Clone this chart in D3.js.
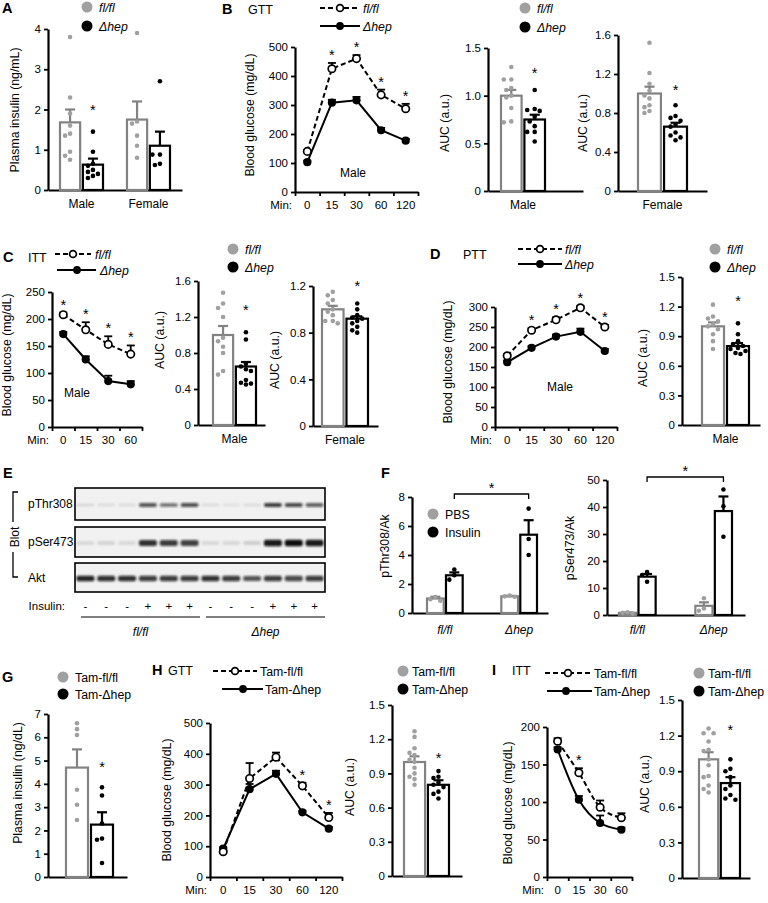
<!DOCTYPE html>
<html><head><meta charset="utf-8">
<script src="https://cdn.jsdelivr.net/npm/d3@7"></script>
<style>body{margin:0;background:#fff}svg{display:block;font-family:"Liberation Sans",Arial,sans-serif}</style>
</head><body><svg id="c" width="768" height="903"></svg>
<script>
// ================= DATA =================
// A: plasma insulin
const sexGroups = ["Male", "Female"];
const aFlMean = [1.68, 1.75];
const aFlSem = [0.32, 0.45];
const aHepMean = [0.63, 1.10];
const aHepSem = [0.15, 0.35];
const aFlDots = [[3.8, 2.3, 1.9, 1.6, 1.4, 1.35, 0.95, 0.85, 0.75], [3.9, 1.7, 1.65, 1.35, 1.1, 0.8]];
const aHepDots = [[1.45, 0.95, 0.65, 0.6, 0.5, 0.45, 0.4, 0.35, 0.3], [2.7, 0.88, 0.88, 0.65, 0.62]];
const aStars = [2.07, null];
const aTicks = [0, 1, 2, 3, 4];

// B: GTT
const gttTimes = ["0", "15", "30", "60", "120"];
const bFlMean = [140, 425, 460, 335, 287];
const bFlSem = [5, 20, 12, 18, 17];
const bHepMean = [103, 308, 316, 213, 177];
const bHepSem = [5, 10, 12, 8, 6];
const bStars = [false, true, true, true, true];
const bTicks = [0, 100, 200, 300, 400, 500];
const bAucMaleMean = [1.0, 0.75];
const bAucMaleSem = [0.06, 0.05];
const bAucMaleFl = [1.3, 1.17, 1.17, 1.08, 1.06, 1.0, 0.98, 0.87, 0.73, 0.72];
const bAucMaleHep = [1.06, 0.86, 0.85, 0.84, 0.78, 0.73, 0.68, 0.62, 0.62, 0.52];
const bAucMaleStar = 1.27;
const bAucMaleTicks = [0, 0.5, 1.0, 1.5];
const bAucFemMean = [1.0, 0.66];
const bAucFemSem = [0.07, 0.04];
const bAucFemFl = [1.52, 1.21, 1.1, 1.03, 0.98, 0.95, 0.88, 0.86, 0.82, 0.8];
const bAucFemHep = [0.88, 0.77, 0.75, 0.72, 0.68, 0.66, 0.6, 0.57, 0.55, 0.52];
const bAucFemStar = 1.07;
const bAucFemTicks = [0, 0.4, 0.8, 1.2, 1.6];

// C: ITT
const ittTimes = ["0", "15", "30", "60"];
const cFlMean = [208, 180, 153, 135];
const cFlSem = [4, 14, 15, 16];
const cHepMean = [172, 125, 85, 79];
const cHepSem = [4, 6, 10, 6];
const cStars = [true, true, true, true];
const cTicks = [0, 50, 100, 150, 200, 250];
const cAucMaleMean = [1.0, 0.65];
const cAucMaleSem = [0.1, 0.05];
const cAucMaleFl = [1.47, 1.35, 1.3, 1.2, 0.97, 0.93, 0.87, 0.8, 0.6, 0.56];
const cAucMaleHep = [1.03, 0.95, 0.68, 0.65, 0.62, 0.6, 0.5, 0.47, 0.46, 0.45];
const cAucMaleStar = 1.31;
const cAucMaleTicks = [0, 0.4, 0.8, 1.2, 1.6];
const cAucFemMean = [1.0, 0.92];
const cAucFemSem = [0.03, 0.02];
const cAucFemFl = [1.15, 1.12, 1.08, 1.05, 1.0, 0.98, 0.95, 0.9, 0.9, 0.88];
const cAucFemHep = [1.05, 1.0, 0.95, 0.93, 0.92, 0.9, 0.88, 0.85, 0.82, 0.8];
const cAucFemStar = 1.23;
const cAucFemTicks = [0, 0.4, 0.8, 1.2];

// D: PTT
const dFlMean = [178, 242, 268, 298, 250];
const dFlSem = [4, 5, 6, 5, 5];
const dHepMean = [162, 198, 226, 238, 190];
const dHepSem = [4, 4, 5, 8, 5];
const dStars = [false, true, true, true, true];
const dTicks = [0, 50, 100, 150, 200, 250, 300];
const dAucMean = [1.0, 0.8];
const dAucSem = [0.04, 0.03];
const dAucFl = [1.22, 1.1, 1.08, 1.05, 1.02, 1.0, 0.97, 0.92, 0.85, 0.77];
const dAucHep = [1.03, 0.92, 0.85, 0.82, 0.8, 0.78, 0.77, 0.75, 0.73, 0.72];
const dAucStar = 1.29;
const aucTicks15 = [0, 0.3, 0.6, 0.9, 1.2, 1.5];

// E: western blot (band darkness 0-1)
const blotInsulin = ["-", "-", "-", "+", "+", "+", "-", "-", "-", "+", "+", "+"];
const blotThr308 = [0.12, 0.1, 0.1, 0.7, 0.6, 0.72, 0.1, 0.08, 0.1, 0.8, 0.75, 0.65];
const blotSer473 = [0.1, 0.12, 0.1, 0.85, 0.8, 0.78, 0.1, 0.1, 0.15, 0.95, 1.0, 0.95];
const blotAkt = [0.9, 0.85, 0.85, 0.8, 0.8, 0.8, 0.85, 0.8, 0.7, 0.8, 0.75, 0.8];
const blotGroups = ["fl/fl", "Δhep"];

// F: quantification
const fGroups = ["fl/fl", "Δhep"];
const fThrPbsMean = [1.0, 1.15];
const fThrPbsSem = [0.12, 0.03];
const fThrPbsDots = [[1.1, 0.95, 0.85], [1.2, 1.15, 1.12]];
const fThrInsMean = [2.6, 5.4];
const fThrInsSem = [0.2, 1.0];
const fThrInsDots = [[3.0, 2.6, 2.3], [7.2, 5.1, 4.0]];
const fThrTicks = [0, 2, 4, 6, 8];
const fSerPbsMean = [0.8, 3.4];
const fSerPbsSem = [0.15, 1.3];
const fSerPbsDots = [[1.0, 0.8, 0.6], [6.2, 2.4, 1.6]];
const fSerInsMean = [14.2, 38.5];
const fSerInsSem = [1.0, 5.4];
const fSerInsDots = [[15.9, 14.8, 12.3], [46.5, 40.3, 29.0]];
const fSerTicks = [0, 10, 20, 30, 40, 50];

// G: Tam plasma insulin
const gMean = [4.7, 2.25];
const gSem = [0.78, 0.53];
const gFlDots = [6.6, 6.35, 6.1, 3.75, 3.1, 2.45];
const gHepDots = [3.85, 3.5, 2.3, 1.65, 1.6, 0.6];
const gStar = 4.85;
const gTicks = [0, 1, 2, 3, 4, 5, 6, 7];

// H: Tam GTT
const hFlMean = [82, 320, 389, 296, 193];
const hFlSem = [4, 50, 15, 10, 15];
const hHepMean = [92, 285, 335, 210, 157];
const hHepSem = [4, 17, 10, 5, 5];
const hStars = [false, false, false, true, true];
const hAucMean = [1.0, 0.8];
const hAucSem = [0.05, 0.04];
const hAucFl = [1.27, 1.22, 1.12, 1.08, 1.06, 1.02, 1.0, 0.95, 0.9, 0.87, 0.85, 0.8];
const hAucHep = [0.92, 0.87, 0.86, 0.82, 0.8, 0.78, 0.74, 0.72, 0.68];
const hAucStar = 1.06;

// I: Tam ITT
const iFlMean = [181, 139, 93, 79];
const iFlSem = [4, 6, 9, 6];
const iHepMean = [170, 103, 72, 63];
const iHepSem = [3, 5, 10, 3];
const iStars = [false, true, false, false];
const iTicks = [0, 50, 100, 150, 200];
const iAucMean = [1.0, 0.8];
const iAucSem = [0.06, 0.05];
const iAucFl = [1.26, 1.22, 1.22, 1.15, 1.08, 1.07, 1.0, 0.95, 0.86, 0.85, 0.78, 0.75, 0.72];
const iAucHep = [1.0, 0.92, 0.9, 0.85, 0.78, 0.75, 0.7, 0.67, 0.66];
const iAucStar = 1.27;

// ================= DRAWING =================
const FONT = '"Liberation Sans", Arial, sans-serif';
const GRAY = "#828282", DOTGRAY = "#a0a0a0", BLACK = "#000";
const TICK_FS = 11.5, TITLE_FS = 12.3;
const svg = d3.select("#c");
svg.append("rect").attr("width", 768).attr("height", 903).attr("fill", "#fff");
const defs = svg.append("defs");
defs.append("filter").attr("id", "blur").attr("x", "-50%").attr("y", "-100%").attr("width", "200%").attr("height", "300%")
  .append("feGaussianBlur").attr("stdDeviation", 1.0);

function text(x, y, s, o = {}) {
  const t = svg.append("text").attr("x", x).attr("y", y).text(s)
    .attr("font-size", o.size || 11).attr("text-anchor", o.anchor || "start")
    .attr("font-family", FONT).attr("fill", o.fill || BLACK);
  if (o.bold) t.attr("font-weight", "bold");
  if (o.italic) t.attr("font-style", "italic");
  if (o.rotate) t.attr("transform", `rotate(-90,${x},${y})`);
  return t;
}
function styleAxis(a) {
  a.select(".domain").attr("stroke", BLACK).attr("stroke-width", 2.2);
  a.selectAll(".tick line").attr("stroke", BLACK).attr("stroke-width", 1.8);
  a.selectAll("text").attr("font-size", TICK_FS).attr("font-family", FONT).attr("fill", BLACK);
}
function star(x, baseline) {
  text(x, baseline, "*", { size: 14.5, anchor: "middle" });
}
function swarm(vals, y, r, maxOff) {
  const idx = vals.map((v, i) => i).sort((a, b) => vals[b] - vals[a]);
  const cands = [0, -5, 5, -2.5, 2.5, -7.5, 7.5].filter(c => Math.abs(c) <= maxOff);
  const placed = [], off = vals.map(() => 0);
  idx.forEach(i => {
    const py = y(vals[i]);
    let best = cands[0], bestD = -1;
    for (const c of cands) {
      const d = placed.length ? d3.min(placed, p => Math.hypot(p[0] - c, p[1] - py)) : Infinity;
      if (d >= 2 * r + 0.5) { best = c; break; }
      if (d > bestD) { bestD = d; best = c; }
    }
    off[i] = best; placed.push([best, py]);
  });
  return off;
}

function barChart(c) {
  const y = d3.scaleLinear().domain([0, c.max]).range([c.y0, c.y1]);
  const gx = d3.scaleBand().domain(c.groups).range(c.groupRange).paddingInner(c.groupPad || 0);
  const sx = d3.scaleBand().domain(c.series.map(s => s.key)).range([0, gx.bandwidth()]).paddingInner(0.12);
  svg.append("g").attr("transform", `translate(${c.axisX},0)`)
    .call(d3.axisLeft(y).tickValues(c.ticks).tickFormat(c.fmt || (d => d)).tickSize(4).tickSizeOuter(0).tickPadding(3))
    .call(styleAxis);
  const xl = d3.scaleLinear().range([c.axisX, c.axisEnd]);
  svg.append("g").attr("transform", `translate(0,${c.y0})`)
    .call(d3.axisBottom(xl).tickValues([]).tickSizeOuter(0)).call(styleAxis);
  c.series.forEach(s => {
    c.groups.forEach((grp, gi) => {
      const bx = gx(grp) + sx(s.key), bw = sx.bandwidth(), cx = bx + bw / 2;
      const m = s.mean[gi], e = s.sem[gi];
      svg.append("line").attr("x1", cx).attr("x2", cx).attr("y1", y(m)).attr("y2", y(m + e))
        .attr("stroke", s.color).attr("stroke-width", 2.2);
      svg.append("line").attr("x1", cx - 5).attr("x2", cx + 5).attr("y1", y(m + e)).attr("y2", y(m + e))
        .attr("stroke", s.color).attr("stroke-width", 2.2);
      svg.append("rect").attr("x", bx).attr("y", y(m)).attr("width", bw).attr("height", y(0) - y(m))
        .attr("fill", "none").attr("stroke", s.color).attr("stroke-width", 2.2);
      const vals = s.dots[gi];
      const off = swarm(vals, y, 2.3, bw / 2 - 2.5);
      svg.append("g").selectAll("circle").data(vals).join("circle")
        .attr("cx", (d, i) => cx + off[i]).attr("cy", d => y(d)).attr("r", 2.3).attr("fill", s.dot);
      if (s.stars && s.stars[gi] != null) star(cx, y(s.stars[gi]) + 8);
    });
  });
  if (c.labels) c.groups.forEach(grp =>
    text(gx(grp) + gx.bandwidth() / 2, c.y0 + (c.labelDy || 18), grp, { anchor: "middle", size: 12, italic: c.labelItalic }));
  if (c.title) text(c.title[1], c.title[2], c.title[0], { rotate: true, anchor: "middle", size: TITLE_FS });
  return { y, gx, sx };
}

function lineChart(c) {
  const x = d3.scaleBand().domain(c.times).range([c.x0, c.x1]);
  const y = d3.scaleLinear().domain([0, c.max]).range([c.y0, c.y1]);
  svg.append("g").attr("transform", `translate(${c.x0},0)`)
    .call(d3.axisLeft(y).tickValues(c.ticks).tickSize(4).tickSizeOuter(0).tickPadding(3)).call(styleAxis);
  const xb = d3.scaleLinear().domain([0, c.times.length]).range([c.x0, c.x1]);
  svg.append("g").attr("transform", `translate(0,${c.y0})`)
    .call(d3.axisBottom(xb).tickValues(d3.range(c.times.length + 1)).tickFormat("").tickSize(4).tickSizeOuter(0))
    .call(styleAxis);
  svg.append("g").attr("transform", `translate(0,${c.y0})`)
    .call(d3.axisBottom(x).tickSize(0).tickPadding(9)).call(styleAxis).call(a => a.select(".domain").remove());
  text(c.x0 - 3, c.y0 + 17, "Min:", { anchor: "end", size: TICK_FS });
  const cx = t => x(t) + x.bandwidth() / 2;
  const line = d3.line().x((d, i) => cx(c.times[i])).y(d => y(d)).curve(c.curve || d3.curveLinear);
  const series = [
    { mean: c.hepMean, sem: c.hepSem, dash: null, open: false },
    { mean: c.flMean, sem: c.flSem, dash: "5,3", open: true }];
  series.forEach(s => {
    svg.append("path").attr("d", line(s.mean)).attr("fill", "none").attr("stroke", BLACK)
      .attr("stroke-width", 2).attr("stroke-dasharray", s.dash);
  });
  series.forEach(s => {
    s.mean.forEach((m, i) => {
      const px = cx(c.times[i]), top = y(m + s.sem[i]);
      svg.append("line").attr("x1", px).attr("x2", px).attr("y1", y(m)).attr("y2", top).attr("stroke", BLACK).attr("stroke-width", 1.8);
      svg.append("line").attr("x1", px - 4).attr("x2", px + 4).attr("y1", top).attr("y2", top).attr("stroke", BLACK).attr("stroke-width", 1.8);
    });
  });
  series.forEach(s => {
    svg.append("g").selectAll("circle").data(s.mean).join("circle")
      .attr("cx", (d, i) => cx(c.times[i])).attr("cy", d => y(d))
      .attr("r", s.open ? 3.7 : 4.1).attr("fill", s.open ? "#fff" : BLACK)
      .attr("stroke", BLACK).attr("stroke-width", s.open ? 1.7 : 0);
  });
  c.stars.forEach((st, i) => { if (st) star(cx(c.times[i]), y(c.flMean[i] + c.flSem[i]) - 3); });
  if (c.note) text(c.note[1], c.note[2], c.note[0], { anchor: "middle", size: 12 });
  if (c.title) text(c.title[1], c.title[2], c.title[0], { rotate: true, anchor: "middle", size: TITLE_FS });
}

function dotLegend(x, y, dy, labels, italic, tx) {
  labels.forEach((l, i) => {
    svg.append("circle").attr("cx", x).attr("cy", y + i * dy).attr("r", 5.5).attr("fill", i === 0 ? DOTGRAY : BLACK);
    text(tx, y + i * dy + 4.5, l, { size: 12.3, italic });
  });
}
function lineLegend(rows, italic) {
  rows.forEach((r, i) => {
    svg.append("line").attr("x1", r.x0).attr("x2", r.x1).attr("y1", r.y).attr("y2", r.y)
      .attr("stroke", BLACK).attr("stroke-width", 2).attr("stroke-dasharray", i === 0 ? "5,3" : null);
    svg.append("circle").attr("cx", r.c).attr("cy", r.y).attr("r", i === 0 ? 3.4 : 3.9)
      .attr("fill", i === 0 ? "#fff" : BLACK).attr("stroke", BLACK).attr("stroke-width", i === 0 ? 1.7 : 0);
    text(r.tx, r.y + 4.5, r.label, { size: 12.3, italic });
  });
}
const fmt1 = d => d === 0 ? "0" : d3.format(".1f")(d);

// ---------- Panel letters ----------
[["A", 2, 13], ["B", 222, 14], ["C", 3, 262], ["D", 430, 259], ["E", 3, 478], ["F", 381, 478],
 ["G", 2, 682], ["H", 152, 675], ["I", 492, 675]].forEach(p => text(p[1], p[2], p[0], { size: 14.5, bold: true }));
text(248, 14, "GTT", { size: 12.5 });
text(28, 262, "ITT", { size: 12.5 });
text(463, 259, "PTT", { size: 12.5 });
text(168, 675, "GTT", { size: 12.5 });
text(512, 675, "ITT", { size: 12.5 });

// ---------- A ----------
dotLegend(87, 7, 19, ["fl/fl", "Δhep"], true, 99);
barChart({
  axisX: 48, axisEnd: 182, y0: 190, y1: 29, max: 4, ticks: aTicks,
  groups: sexGroups, groupRange: [60, 170], groupPad: 0.358, labels: true,
  series: [
    { key: "fl", color: GRAY, dot: DOTGRAY, mean: aFlMean, sem: aFlSem, dots: aFlDots },
    { key: "hep", color: BLACK, dot: BLACK, mean: aHepMean, sem: aHepSem, dots: aHepDots, stars: aStars }],
  title: ["Plasma insulin (ng/mL)", 19, 110]
});

// ---------- B ----------
lineLegend([
  { x0: 320, x1: 360, c: 340, y: 8, tx: 363, label: "fl/fl" },
  { x0: 320, x1: 360, c: 340, y: 26, tx: 363, label: "Δhep" }], true);
lineChart({
  times: gttTimes, x0: 295, x1: 418, y0: 192, y1: 47, max: 500, ticks: bTicks,
  flMean: bFlMean, flSem: bFlSem, hepMean: bHepMean, hepSem: bHepSem, stars: bStars,
  note: ["Male", 353, 177], title: ["Blood glucose (mg/dL)", 254, 115]
});
dotLegend(525, 8, 19, ["fl/fl", "Δhep"], true, 537);
barChart({
  axisX: 488, axisEnd: 583, y0: 191, y1: 48, max: 1.5, ticks: bAucMaleTicks, fmt: fmt1,
  groups: ["Male"], groupRange: [501, 545], labels: true,
  series: [
    { key: "fl", color: GRAY, dot: DOTGRAY, mean: [bAucMaleMean[0]], sem: [bAucMaleSem[0]], dots: [bAucMaleFl] },
    { key: "hep", color: BLACK, dot: BLACK, mean: [bAucMaleMean[1]], sem: [bAucMaleSem[1]], dots: [bAucMaleHep], stars: [bAucMaleStar] }],
  title: ["AUC (a.u.)", 449, 123]
});
barChart({
  axisX: 618, axisEnd: 707, y0: 191, y1: 35, max: 1.6, ticks: bAucFemTicks, fmt: fmt1,
  groups: ["Female"], groupRange: [638, 687], labels: true,
  series: [
    { key: "fl", color: GRAY, dot: DOTGRAY, mean: [bAucFemMean[0]], sem: [bAucFemSem[0]], dots: [bAucFemFl] },
    { key: "hep", color: BLACK, dot: BLACK, mean: [bAucFemMean[1]], sem: [bAucFemSem[1]], dots: [bAucFemHep], stars: [bAucFemStar] }],
  title: ["AUC (a.u.)", 587, 123]
});

// ---------- C ----------
lineLegend([
  { x0: 55, x1: 91, c: 73, y: 254, tx: 95, label: "fl/fl" },
  { x0: 57, x1: 96, c: 77, y: 270, tx: 100, label: "Δhep" }], true);
lineChart({
  times: ittTimes, x0: 52, x1: 142, y0: 427, y1: 292, max: 250, ticks: cTicks,
  flMean: cFlMean, flSem: cFlSem, hepMean: cHepMean, hepSem: cHepSem, stars: cStars,
  note: ["Male", 77, 397], title: ["Blood glucose (mg/dL)", 11, 355]
});
dotLegend(233, 249, 18, ["fl/fl", "Δhep"], true, 245);
barChart({
  axisX: 198, axisEnd: 265, y0: 425, y1: 281, max: 1.6, ticks: cAucMaleTicks, fmt: fmt1,
  groups: ["Male"], groupRange: [213, 256], labels: true,
  series: [
    { key: "fl", color: GRAY, dot: DOTGRAY, mean: [cAucMaleMean[0]], sem: [cAucMaleSem[0]], dots: [cAucMaleFl] },
    { key: "hep", color: BLACK, dot: BLACK, mean: [cAucMaleMean[1]], sem: [cAucMaleSem[1]], dots: [cAucMaleHep], stars: [cAucMaleStar] }],
  title: ["AUC (a.u.)", 164, 340]
});
barChart({
  axisX: 313, axisEnd: 378, y0: 426, y1: 286, max: 1.2, ticks: cAucFemTicks, fmt: fmt1,
  groups: ["Female"], groupRange: [322, 368], labels: true,
  series: [
    { key: "fl", color: GRAY, dot: DOTGRAY, mean: [cAucFemMean[0]], sem: [cAucFemSem[0]], dots: [cAucFemFl] },
    { key: "hep", color: BLACK, dot: BLACK, mean: [cAucFemMean[1]], sem: [cAucFemSem[1]], dots: [cAucFemHep], stars: [cAucFemStar] }],
  title: ["AUC (a.u.)", 279, 360]
});

// ---------- D ----------
lineLegend([
  { x0: 518, x1: 562, c: 540, y: 249, tx: 565, label: "fl/fl" },
  { x0: 518, x1: 562, c: 540, y: 264, tx: 565, label: "Δhep" }], true);
lineChart({
  times: gttTimes, x0: 495, x1: 617, y0: 427, y1: 307, max: 300, ticks: dTicks,
  flMean: dFlMean, flSem: dFlSem, hepMean: dHepMean, hepSem: dHepSem, stars: dStars,
  note: ["Male", 560, 391], title: ["Blood glucose (mg/dL)", 452, 362]
});
dotLegend(715, 249, 18, ["fl/fl", "Δhep"], true, 727);
barChart({
  axisX: 682, axisEnd: 760, y0: 425, y1: 277, max: 1.5, ticks: aucTicks15, fmt: fmt1,
  groups: ["Male"], groupRange: [702, 749], labels: true,
  series: [
    { key: "fl", color: GRAY, dot: DOTGRAY, mean: [dAucMean[0]], sem: [dAucSem[0]], dots: [dAucFl] },
    { key: "hep", color: BLACK, dot: BLACK, mean: [dAucMean[1]], sem: [dAucSem[1]], dots: [dAucHep], stars: [dAucStar] }],
  title: ["AUC (a.u.)", 647, 358]
});

// ---------- E: blot ----------
const lanes = d3.scaleBand().domain(d3.range(12)).range([75, 325]);
const blotRows = [
  { name: "pThr308", vals: blotThr308, y0: 488, y1: 520, h: 4.5 },
  { name: "pSer473", vals: blotSer473, y0: 527, y1: 557, h: 6.5 },
  { name: "Akt", vals: blotAkt, y0: 563, y1: 592, h: 6 }];
blotRows.forEach(r => {
  svg.append("rect").attr("x", 75).attr("y", r.y0).attr("width", 250).attr("height", r.y1 - r.y0)
    .attr("fill", "#f1f1f1").attr("stroke", BLACK).attr("stroke-width", 1.6);
  const cy = (r.y0 + r.y1) / 2 + 1;
  svg.append("g").attr("filter", "url(#blur)").selectAll("rect").data(r.vals).join("rect")
    .attr("x", (d, i) => lanes(i) + lanes.bandwidth() / 2 - 9).attr("width", 18)
    .attr("y", d => cy - r.h * (0.55 + 0.45 * d) / 2).attr("height", d => r.h * (0.55 + 0.45 * d)).attr("rx", 2)
    .attr("fill", "#111").attr("opacity", d => d);
  text(28, (r.y0 + r.y1) / 2 + 4, r.name, { size: 12 });
});
svg.append("path").attr("d", "M18,492H13V522M13,552V577H18").attr("fill", "none").attr("stroke", BLACK).attr("stroke-width", 1.3);
text(19, 537, "Blot", { rotate: true, anchor: "middle", size: 12 });
text(65, 610, "Insulin:", { anchor: "end", size: 11.5 });
blotInsulin.forEach((s, i) => text(lanes(i) + lanes.bandwidth() / 2, 610, s, { anchor: "middle", size: 11.5 }));
blotGroups.forEach((gname, gi) => {
  const a = lanes(gi * 6) + 6, b = lanes(gi * 6 + 5) + lanes.bandwidth() - 0;
  svg.append("line").attr("x1", a).attr("x2", b).attr("y1", 617).attr("y2", 617).attr("stroke", BLACK).attr("stroke-width", 1.2);
  text((a + b) / 2, 636, gname, { anchor: "middle", size: 12, italic: true });
});

// ---------- F ----------
dotLegend(433, 514, 18, ["PBS", "Insulin"], false, 445);
const fL = barChart({
  axisX: 412, axisEnd: 548, y0: 613, y1: 497, max: 8, ticks: fThrTicks,
  groups: fGroups, groupRange: [427, 537], groupPad: 0.52, labels: true, labelItalic: true, labelDy: 21,
  series: [
    { key: "pbs", color: GRAY, dot: DOTGRAY, mean: fThrPbsMean, sem: fThrPbsSem, dots: fThrPbsDots },
    { key: "ins", color: BLACK, dot: BLACK, mean: fThrInsMean, sem: fThrInsSem, dots: fThrInsDots }],
  title: ["pThr308/Ak", 389, 546]
});
const fR = barChart({
  axisX: 607, axisEnd: 745, y0: 615, y1: 480, max: 50, ticks: fSerTicks,
  groups: fGroups, groupRange: [619, 732], groupPad: 0.52, labels: true, labelItalic: true, labelDy: 19,
  series: [
    { key: "pbs", color: GRAY, dot: DOTGRAY, mean: fSerPbsMean, sem: fSerPbsSem, dots: fSerPbsDots },
    { key: "ins", color: BLACK, dot: BLACK, mean: fSerInsMean, sem: fSerInsSem, dots: fSerInsDots }],
  title: ["pSer473/Ak", 574, 548]
});
function bracket(ch, yPix) {
  const xa = ch.gx(fGroups[0]) + ch.sx("ins") + ch.sx.bandwidth() / 2;
  const xb2 = ch.gx(fGroups[1]) + ch.sx("ins") + ch.sx.bandwidth() / 2;
  svg.append("path").attr("d", `M${xa},${yPix + 5}V${yPix}H${xb2}V${yPix + 5}`).attr("fill", "none")
    .attr("stroke", BLACK).attr("stroke-width", 1.3);
  star((xa + xb2) / 2, yPix - 1);
}
bracket(fL, 494);
bracket(fR, 477);

// ---------- G ----------
dotLegend(63, 677, 17, ["Tam-fl/fl", "Tam-Δhep"], false, 75);
barChart({
  axisX: 48, axisEnd: 127, y0: 877, y1: 714, max: 7, ticks: gTicks,
  groups: [""], groupRange: [66, 113],
  series: [
    { key: "fl", color: GRAY, dot: DOTGRAY, mean: [gMean[0]], sem: [gSem[0]], dots: [gFlDots] },
    { key: "hep", color: BLACK, dot: BLACK, mean: [gMean[1]], sem: [gSem[1]], dots: [gHepDots], stars: [gStar] }],
  title: ["Plasma insulin (ng/dL)", 22, 783]
});

// ---------- H ----------
lineLegend([
  { x0: 213, x1: 257, c: 235, y: 671, tx: 260, label: "Tam-fl/fl" },
  { x0: 222, x1: 263, c: 243, y: 689, tx: 265, label: "Tam-Δhep" }], false);
lineChart({
  times: gttTimes, x0: 210, x1: 342, y0: 877, y1: 723, max: 500, ticks: bTicks,
  flMean: hFlMean, flSem: hFlSem, hepMean: hHepMean, hepSem: hHepSem, stars: hStars,
  title: ["Blood glucose (mg/dL)", 171, 800]
});
dotLegend(403, 671, 18, ["Tam-fl/fl", "Tam-Δhep"], false, 412);
barChart({
  axisX: 392, axisEnd: 462, y0: 876, y1: 705, max: 1.5, ticks: aucTicks15, fmt: fmt1,
  groups: [""], groupRange: [404, 449],
  series: [
    { key: "fl", color: GRAY, dot: DOTGRAY, mean: [hAucMean[0]], sem: [hAucSem[0]], dots: [hAucFl] },
    { key: "hep", color: BLACK, dot: BLACK, mean: [hAucMean[1]], sem: [hAucSem[1]], dots: [hAucHep], stars: [hAucStar] }],
  title: ["AUC (a.u.)", 354, 787]
});

// ---------- I ----------
lineLegend([
  { x0: 545, x1: 592, c: 568, y: 673, tx: 594, label: "Tam-fl/fl" },
  { x0: 547, x1: 592, c: 566, y: 691, tx: 594, label: "Tam-Δhep" }], false);
lineChart({
  times: ittTimes, x0: 547, x1: 632, y0: 877, y1: 727, max: 200, ticks: iTicks,
  flMean: iFlMean, flSem: iFlSem, hepMean: iHepMean, hepSem: iHepSem, stars: iStars,
  curve: d3.curveMonotoneX, title: ["Blood glucose (mg/dL)", 512, 803]
});
dotLegend(699, 673, 18, ["Tam-fl/fl", "Tam-Δhep"], false, 708);
barChart({
  axisX: 682, axisEnd: 750, y0: 878, y1: 700, max: 1.5, ticks: aucTicks15, fmt: fmt1,
  groups: [""], groupRange: [699, 740],
  series: [
    { key: "fl", color: GRAY, dot: DOTGRAY, mean: [iAucMean[0]], sem: [iAucSem[0]], dots: [iAucFl] },
    { key: "hep", color: BLACK, dot: BLACK, mean: [iAucMean[1]], sem: [iAucSem[1]], dots: [iAucHep], stars: [iAucStar] }],
  title: ["AUC (a.u.)", 649, 784]
});
</script></body></html>
